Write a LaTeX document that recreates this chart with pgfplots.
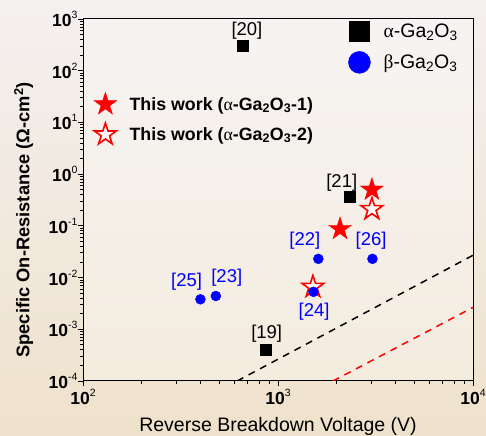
\documentclass[border=0pt]{standalone}
\usepackage{fontspec}
\setmainfont{Liberation Sans}
\newfontfamily\grk{Liberation Serif}
\usepackage{pgfplots}
\pgfplotsset{compat=1.18}
\pgfdeclareplotmark{star5}{%
  \pgfpathmoveto{\pgfpointpolar{90}{\pgfplotmarksize}}%
  \pgfpathlineto{\pgfpointpolar{126}{0.382\pgfplotmarksize}}%
  \pgfpathlineto{\pgfpointpolar{162}{\pgfplotmarksize}}%
  \pgfpathlineto{\pgfpointpolar{198}{0.382\pgfplotmarksize}}%
  \pgfpathlineto{\pgfpointpolar{234}{\pgfplotmarksize}}%
  \pgfpathlineto{\pgfpointpolar{270}{0.382\pgfplotmarksize}}%
  \pgfpathlineto{\pgfpointpolar{306}{\pgfplotmarksize}}%
  \pgfpathlineto{\pgfpointpolar{342}{0.382\pgfplotmarksize}}%
  \pgfpathlineto{\pgfpointpolar{18}{\pgfplotmarksize}}%
  \pgfpathlineto{\pgfpointpolar{54}{0.382\pgfplotmarksize}}%
  \pgfpathclose
  \pgfusepathqfillstroke
}
\newcommand{\tl}[1]{\textbf{10}\raisebox{8bp}{\fontsize{10.5bp}{10bp}\selectfont #1}}
\newcommand{\gao}{Ga\textsubscript{2}O\textsubscript{3}}
\definecolor{bgtop}{RGB}{244,240,240}
\definecolor{bgbot}{RGB}{239,226,204}
\begin{document}
\begin{tikzpicture}[x=1bp,y=1bp,font=\fontsize{18.5bp}{22bp}\selectfont]
\path[use as bounding box] (0,0) rectangle (486,436);
\shade[top color=bgtop, bottom color=bgbot] (0,0) rectangle (486,436);
\fill[white, opacity=0.3] (83,55) rectangle (473,417);
% stars layer
\begin{axis}[at={(83bp,55bp)}, anchor=south west, scale only axis,
  width=390bp, height=362bp, xmode=log, ymode=log,
  xmin=100, xmax=10000, ymin=1e-4, ymax=1e3, hide axis,
  legend image code/.code={\draw[#1] plot coordinates {(0bp,0bp)}; \path (-12bp,0bp) (22bp,0bp);},
  legend style={at={(axis description cs:0.0256,0.798)}, anchor=north west,
    draw=none, fill=none, inner sep=0pt, row sep=9bp,
    font=\bfseries\fontsize{17.8bp}{22bp}\selectfont},
  legend cell align=left]
\addplot[only marks, mark=star5, mark size=12bp, draw=red, fill=red]
  coordinates {(3030,0.5) (2080,0.087)};
\addlegendentry{This work ({\grk\mdseries α}-\gao-1)}
\addplot[only marks, mark=star5, mark size=11.5bp, draw=red, fill=white,
  mark options={line width=1.6bp}]
  coordinates {(3030,0.21) (1510,0.0066)};
\addlegendentry{This work ({\grk\mdseries α}-\gao-2)}
\end{axis}
% main axis
\begin{axis}[at={(83bp,55bp)}, anchor=south west, scale only axis,
  width=390bp, height=362bp, xmode=log, ymode=log,
  xmin=100, xmax=10000, ymin=1e-4, ymax=1e3,
  axis line style={line width=1bp, black},
  tick align=outside, xtick pos=left, ytick pos=left,
  major tick length=5bp, minor tick length=3bp,
  every tick/.style={black, line width=0.8bp},
  xtick={100,1000,10000}, xticklabels={\tl{2},\tl{3},\tl{4}},
  ytick={1e-4,1e-3,1e-2,1e-1,1,10,100,1000},
  yticklabels={\tl{-4},\tl{-3},\tl{-2},\tl{-1},\tl{0},\tl{1},\tl{2},\tl{3}},
  minor xtick={200,300,400,500,600,700,800,900,2000,3000,4000,5000,6000,7000,8000,9000},
  minor ytick={2e-4,3e-4,4e-4,5e-4,6e-4,7e-4,8e-4,9e-4,
    2e-3,3e-3,4e-3,5e-3,6e-3,7e-3,8e-3,9e-3,
    2e-2,3e-2,4e-2,5e-2,6e-2,7e-2,8e-2,9e-2,
    0.2,0.3,0.4,0.5,0.6,0.7,0.8,0.9,
    2,3,4,5,6,7,8,9,20,30,40,50,60,70,80,90,200,300,400,500,600,700,800,900},
  ticklabel style={font=\fontsize{17.5bp}{18bp}\selectfont},
  yticklabel style={xshift=3bp},
  xlabel={Reverse Breakdown Voltage (V)},
  xlabel style={at={(axis description cs:0.5,-0.125)}, anchor=center,
    font=\fontsize{19.5bp}{22bp}\selectfont},
  ylabel={Specific On-Resistance (Ω-cm\textsuperscript{2})},
  ylabel style={at={(axis description cs:-0.152,0.445)}, anchor=center,
    font=\bfseries\fontsize{18.3bp}{22bp}\selectfont},
  legend image code/.code={\draw[#1] plot coordinates {(0bp,0bp)}; \path (-12bp,0bp) (22bp,0bp);},
  legend style={at={(axis description cs:0.677,0.994)}, anchor=north west,
    draw=none, fill=none, inner sep=0pt, row sep=10bp,
    font=\fontsize{19.5bp}{22bp}\selectfont},
  legend cell align=left]
\addlegendimage{only marks, mark=square*, mark size=10bp, black}
\addlegendentry{{\grk α}-\gao}
\addlegendimage{only marks, mark=*, mark size=11bp, blue}
\addlegendentry{{\grk β}-\gao}
\addplot[black, dash pattern=on 7bp off 6bp, line width=1.5bp, forget plot]
  coordinates {(617,1e-4) (10000,0.027)};
\addplot[red, dash pattern=on 7bp off 6bp, line width=1.5bp, forget plot]
  coordinates {(1913,1e-4) (10000,0.00265)};
\addplot[only marks, mark=square*, mark size=5.5bp, black, forget plot]
  coordinates {(660,300) (2340,0.36) (865,4e-4)};
\addplot[only marks, mark=*, mark size=5bp, blue, forget plot]
  coordinates {(1610,0.023) (3050,0.023) (1520,0.0053) (400,0.0038) (480,0.0044)};
\node at (axis cs:693,586) {[20]};
\node at (axis cs:2123,0.682) {[21]};
\node at (axis cs:875,8.3e-4) {[19]};
\node[blue] at (axis cs:1374,0.0515) {[22]};
\node[blue] at (axis cs:3000,0.0515) {[26]};
\node[blue] at (axis cs:1531,0.00215) {[24]};
\node[blue] at (axis cs:340,0.0083) {[25]};
\node[blue] at (axis cs:546,0.0101) {[23]};
\end{axis}
\end{tikzpicture}
\end{document}
